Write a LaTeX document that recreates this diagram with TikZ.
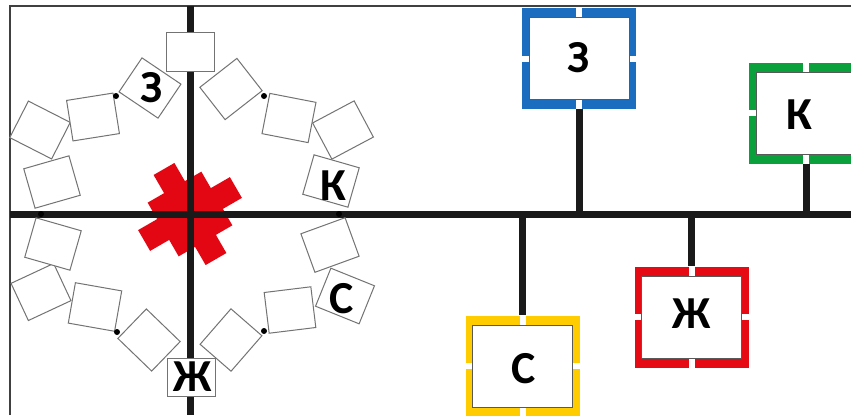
\documentclass[tikz,border=0pt]{standalone}
\usepackage{fontspec}
\setmainfont{Carlito}
\definecolor{bcol}{HTML}{1A6DBF}
\definecolor{gcol}{HTML}{0AA03C}
\definecolor{rcol}{HTML}{E50A14}
\definecolor{ycol}{HTML}{FFCC00}
\definecolor{crosscol}{HTML}{E30613}
\definecolor{trackcol}{HTML}{1A1A1A}
\newcommand\signbox[6]{%
  \node[outerbox, fill=#4] (#1) at (#2,#3) {};
  \fill[white] ([xshift=-3bp]#1.north) rectangle ([xshift=3bp,yshift=-14bp]#1.north);
  \fill[white] ([xshift=-3bp]#1.south) rectangle ([xshift=3bp,yshift=14bp]#1.south);
  \fill[white] ([yshift=-3bp]#1.west) rectangle ([yshift=3bp,xshift=14bp]#1.west);
  \fill[white] ([yshift=-3bp]#1.east) rectangle ([yshift=3bp,xshift=-14bp]#1.east);
  \node[innerbox] (#1i) at (#2,#3) {};
  \node[letter] (#1t) at #6 {#5};
}
\begin{document}
\begin{tikzpicture}[x=1bp,y=-1bp,
  track/.style={draw=trackcol, line width=7bp},
  ringsq/.style={draw=black!55, line width=1bp, fill=white, minimum width=47bp, minimum height=41bp, inner sep=0pt},
  endsq/.style={ringsq, minimum width=48bp, minimum height=39bp},
  jdot/.style={circle, fill=black, inner sep=0pt, minimum size=6bp},
  letter/.style={inner sep=0pt, font=\fontsize{46}{46}\selectfont\bfseries},
  outerbox/.style={minimum width=114bp, minimum height=101bp, inner sep=0pt},
  innerbox/.style={draw=black!65, line width=1bp, fill=white, minimum width=100bp, minimum height=82bp, inner sep=0pt},
]
\useasboundingbox (0,0) rectangle (851,415);
\fill[white] (0,0) rectangle (851,415);

% red emblem
\begin{scope}[shift={(190,214)}, rotate=30]
  \fill[crosscol] (-53,-12) -- (53,-12) -- (53,12) -- (-53,12) -- cycle;
  \fill[crosscol] (-12,-52) -- (12,-52) -- (12,52) -- (-12,52) -- cycle;
  \fill[crosscol] (-31,-31) -- (31,-31) -- (31,31) -- (-31,31) -- cycle;
\end{scope}

% border
\coordinate (bl) at (10,415);
\coordinate (tl) at (10,6);
\coordinate (tr) at (851,6);
\draw[black!75, line width=1.4bp] (bl) -- (tl) -- (tr);

% main tracks
\coordinate (vt) at (190,6);
\coordinate (vb) at (190,415);
\coordinate (hl) at (10,214);
\coordinate (hr) at (851,214);
\draw[track] (vt) -- (vb);
\draw[track] (hl) -- (hr);

% ring of squares
\node[endsq] (s1) at (190,52) {};
\node[ringsq, rotate=38] (s2) at (231,89) {};
\node[ringsq, rotate=-11] (s3) at (289,118) {};
\node[ringsq, rotate=28] (s4) at (343,130) {};
\node[ringsq, rotate=-16] (s5) at (331,181) {};
\node[ringsq, rotate=20] (s6) at (330,245) {};
\node[ringsq, rotate=-22] (s7) at (345,296) {};
\node[ringsq, rotate=7] (s8) at (290,310) {};
\node[ringsq, rotate=49] (s9) at (231,340) {};
\node[endsq, minimum height=38bp] (s10) at (191,377) {};
\node[ringsq, rotate=-44] (s11) at (149,340) {};
\node[ringsq, rotate=-10] (s12) at (95,307) {};
\node[ringsq, rotate=25] (s13) at (41,292) {};
\node[ringsq, rotate=-16] (s14) at (53,244) {};
\node[ringsq, rotate=16] (s15) at (52,182) {};
\node[ringsq, rotate=-27] (s16) at (40,130) {};
\node[ringsq, rotate=9] (s17) at (93,117) {};
\node[ringsq, rotate=-34] (s18) at (150,88) {};

% junction marks
\node[jdot] (j1) at (116,96) {};
\node[jdot] (j2) at (264,96) {};
\node[jdot] (j3) at (117,332) {};
\node[jdot] (j4) at (264,331) {};
\node[jdot] (j5) at (41,214) {};
\node[jdot] (j6) at (339,214) {};

% ring letters
\node[letter] (lz) at (152,88) {З};
\node[letter] (lk) at (333,186) {К};
\node[letter] (ls) at (342,299) {С};
\node[letter] (lzh) at (193,377) {Ж};

% coloured signs
\signbox{bz}{579}{58.5}{bcol}{З}{(579,58)}
\signbox{gk}{806}{113}{gcol}{К}{(799,115)}
\signbox{rzh}{691.5}{317}{rcol}{Ж}{(692,314)}
\signbox{ys}{522.5}{366}{ycol}{С}{(524,369)}

% stems
\draw[track] (bz.south) -- (bz.south |- hl);
\draw[track] (gk.south) -- (gk.south |- hl);
\draw[track] (rzh.north) -- (rzh.north |- hl);
\draw[track] (ys.north) -- (ys.north |- hl);
\end{tikzpicture}
\end{document}
